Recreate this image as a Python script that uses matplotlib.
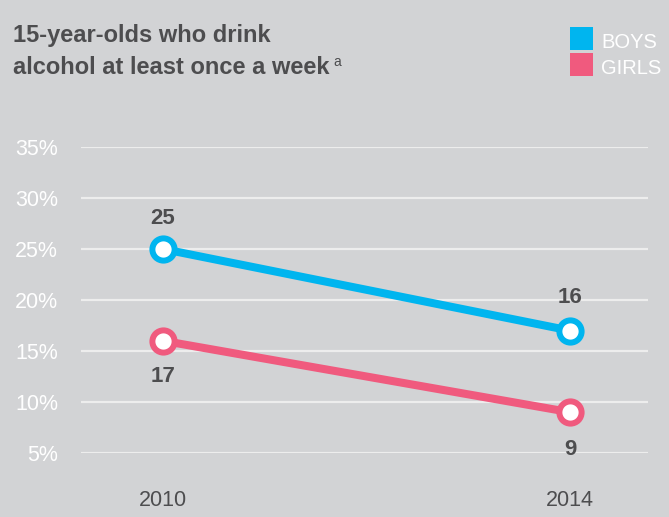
import matplotlib
matplotlib.use("Agg")
import matplotlib.pyplot as plt
from matplotlib import font_manager

years = ["2010", "2014"]
boys = [25, 17]
girls = [16, 9]
boys_labels = ["25", "16"]
girls_labels = ["17", "9"]
yticks = [5, 10, 15, 20, 25, 30, 35]
ytick_labels = ["5%", "10%", "15%", "20%", "25%", "30%", "35%"]

names = {f.name for f in font_manager.fontManager.ttflist}
FONT = [n for n in ["Liberation Sans Narrow", "Liberation Sans", "DejaVu Sans"] if n in names]
plt.rcParams["font.family"] = FONT
narrow = FONT[0] == "Liberation Sans Narrow"

BG = "#d2d3d5"
CYAN = "#00b5ef"
PINK = "#f05a7e"
DARK = "#4d4d4f"
GRID = "#ededed"

W, H = 669, 517
fig = plt.figure(figsize=(W / 100, H / 100), dpi=100, facecolor=BG)

left = 81 / W
right = 648 / W
bottom = (H - 453) / H
top = (H - 147) / H
ax = fig.add_axes([left, bottom, right - left, top - bottom], facecolor=BG)

x = list(range(len(years)))
ax.set_xlim(-0.2015, 1.1916)
ax.set_ylim(5, 35)

ax.set_yticks(yticks)
ax.set_yticklabels(ytick_labels)
ax.set_xticks(x)
ax.set_xticklabels(years)
for s in ax.spines.values():
    s.set_visible(False)
tick_fs = 16.5 if narrow else 15.5
ax.tick_params(axis="y", length=0, pad=16.5, labelsize=tick_fs, labelcolor="white")
ax.tick_params(axis="x", length=0, pad=27, labelsize=tick_fs, labelcolor=DARK)
ax.grid(axis="y", color=GRID, linewidth=1.6)
ax.grid(axis="x", visible=False)
ax.set_axisbelow(True)

for vals, col in [(boys, CYAN), (girls, PINK)]:
    ax.plot(x, vals, color=col, linewidth=5.8, solid_capstyle="butt", zorder=3,
            clip_on=False)
    ax.plot(x, vals, linestyle="none", marker="o", markersize=16,
            markerfacecolor="white", markeredgecolor=col, markeredgewidth=4.3,
            zorder=4, clip_on=False)

boy_offsets = [21.6, 23.8]
girl_offsets = [-26, -26.6]
lab_fs = 17 if narrow else 16
for i, (v, lab) in enumerate(zip(boys, boys_labels)):
    ax.annotate(lab, (x[i], v), xytext=(0, boy_offsets[i]), textcoords="offset points",
                ha="center", va="center", fontsize=lab_fs, fontweight="bold", color=DARK)
for i, (v, lab) in enumerate(zip(girls, girls_labels)):
    ax.annotate(lab, (x[i], v), xytext=(0, girl_offsets[i]), textcoords="offset points",
                ha="center", va="center", fontsize=lab_fs, fontweight="bold", color=DARK)

# Title
title_fs = 19 if narrow else 17
fig.text(13 / W, 1 - 42 / H, "15-year-olds who drink", fontsize=title_fs, fontweight="bold",
         color=DARK, ha="left", va="baseline")
t2 = fig.text(13 / W, 1 - 74 / H, "alcohol at least once a week", fontsize=title_fs,
              fontweight="bold", color=DARK, ha="left", va="baseline")
fig.canvas.draw()
bb = t2.get_window_extent(renderer=fig.canvas.get_renderer())
fig.text((bb.x1 + 4) / W, 1 - 66 / H, "a", fontsize=10, color=DARK,
         ha="left", va="baseline")

# Legend
leg_fs = 16.5 if narrow else 14.5
for label, col, ytop in [("BOYS", CYAN, 27), ("GIRLS", PINK, 53)]:
    fig.patches.append(plt.Rectangle((570 / W, 1 - (ytop + 23) / H), 23 / W, 23 / H,
                                     transform=fig.transFigure, facecolor=col,
                                     edgecolor="none"))
    fig.text(601 / W, 1 - (ytop + 21) / H, label, fontsize=leg_fs, color="white",
             ha="left", va="baseline")

fig.savefig("out.png", dpi=100, facecolor=BG)
